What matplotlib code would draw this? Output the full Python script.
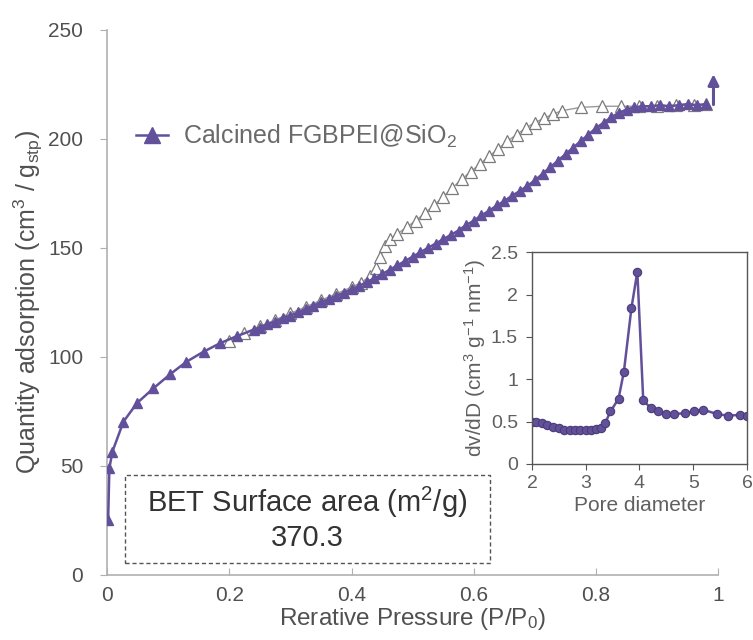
import matplotlib
matplotlib.use("Agg")
import matplotlib.pyplot as plt
from matplotlib.patches import Rectangle

plt.rcParams["font.family"] = ["Liberation Sans", "DejaVu Sans"]
plt.rcParams["mathtext.default"] = "regular"

PURPLE = "#62509a"
GREY_TXT = "#505050"

# adsorption branch (filled triangles)
ads_p = [0.002, 0.004, 0.009, 0.027, 0.049, 0.076, 0.103, 0.130, 0.158, 0.185,
         0.212, 0.24, 0.25, 0.2625, 0.275, 0.2875, 0.30, 0.3125, 0.325, 0.3375,
         0.35, 0.3625, 0.375, 0.3875, 0.40, 0.4125, 0.425, 0.4375, 0.45, 0.4625,
         0.475, 0.4875, 0.50, 0.5125, 0.525, 0.5375, 0.55, 0.5625, 0.575, 0.5875,
         0.60, 0.6125, 0.625, 0.6375, 0.65, 0.6625, 0.675, 0.6875, 0.70, 0.7125,
         0.725, 0.7375, 0.75, 0.7625, 0.775, 0.7875, 0.80, 0.8125, 0.825, 0.8375,
         0.85, 0.8625, 0.875, 0.89, 0.905, 0.92, 0.935, 0.95, 0.965, 0.98]
ads_q = [25.2, 49.0, 56.6, 70.3, 78.8, 85.6, 92.0, 97.8, 102.4, 106.3,
         109.5, 112.5, 113.5, 115.0, 116.2, 117.8, 119.0, 120.5, 122.0, 123.5,
         125.0, 126.5, 128.0, 129.5, 131.0, 132.5, 134.5, 136.0, 138.0, 140.0,
         142.0, 144.0, 146.0, 148.0, 150.0, 152.0, 154.0, 156.0, 158.0, 160.5,
         162.5, 165.0, 167.0, 169.5, 171.5, 174.0, 176.0, 178.5, 181.0, 184.0,
         187.0, 190.0, 193.0, 196.0, 199.0, 202.0, 205.0, 207.5, 210.0, 212.0,
         213.5, 214.5, 215.0, 215.0, 215.5, 215.0, 215.5, 216.0, 215.5, 216.0]

# desorption branch (open triangles)
des_p = [0.20, 0.225, 0.25, 0.275, 0.30, 0.325, 0.35, 0.375, 0.40, 0.415,
         0.43, 0.44, 0.447, 0.455, 0.463, 0.475, 0.49, 0.505, 0.52, 0.535,
         0.55, 0.565, 0.58, 0.595, 0.61, 0.625, 0.64, 0.655, 0.67, 0.685,
         0.70, 0.715, 0.73, 0.745, 0.775, 0.81, 0.84, 0.87, 0.90, 0.93,
         0.96, 0.98]
des_q = [107.5, 111.0, 114.0, 117.0, 120.0, 123.0, 126.0, 129.0, 132.0, 134.0,
         137.0, 141.0, 146.0, 151.0, 154.0, 156.5, 159.5, 162.5, 166.0, 169.5,
         173.5, 177.5, 181.5, 185.0, 188.5, 192.0, 195.5, 199.0, 202.0, 205.0,
         207.5, 209.5, 211.5, 213.0, 214.5, 215.0, 215.0, 215.0, 215.0, 215.5,
         215.5, 216.0]

# arrow at the end of the isotherm
arrow_p = [0.992, 0.992]
arrow_q = [214.5, 231.0]

# pore size distribution (inset)
pore_d = [2.0, 2.08, 2.18, 2.28, 2.4, 2.5, 2.6, 2.7, 2.8, 2.9, 3.0, 3.1,
          3.2, 3.28, 3.36, 3.46, 3.61, 3.71, 3.85, 3.96, 4.07, 4.21, 4.35,
          4.5, 4.65, 4.85, 5.01, 5.19, 5.44, 5.65, 5.87, 6.0]
dv_dD = [0.50, 0.49, 0.48, 0.46, 0.44, 0.42, 0.40, 0.40, 0.40, 0.40, 0.40, 0.40,
         0.41, 0.43, 0.48, 0.62, 0.77, 1.09, 1.84, 2.27, 0.75, 0.66, 0.62,
         0.59, 0.59, 0.60, 0.62, 0.64, 0.59, 0.57, 0.58, 0.57]

bet_value = "370.3"

fig = plt.figure(figsize=(7.53, 6.4), dpi=100)
ax = fig.add_axes([0.142, 0.1016, 0.812, 0.8516])

ax.plot(des_p, des_q, color="#9a9a9a", lw=1.0, marker="^", ms=8,
        mfc="white", mec="#7a7a7a", mew=0.9, zorder=2)
ax.plot(ads_p, ads_q, color=PURPLE, lw=1.8, marker="^", ms=7,
        mfc=PURPLE, mec=PURPLE, zorder=3, label="Calcined FGBPEI@SiO$_2$")
ax.annotate("", xy=(arrow_p[1], arrow_q[1]), xytext=(arrow_p[0], arrow_q[0]),
            arrowprops=dict(arrowstyle="-|>", color=PURPLE, lw=2.2,
                            mutation_scale=16), zorder=4)

ax.set_xlim(0, 1)
ax.set_ylim(0, 250)
ax.set_xticks([0, 0.2, 0.4, 0.6, 0.8, 1])
ax.set_xticklabels(["0", "0.2", "0.4", "0.6", "0.8", "1"])
ax.set_yticks([0, 50, 100, 150, 200, 250])
for s in ["top", "right"]:
    ax.spines[s].set_visible(False)
for s in ["left", "bottom"]:
    ax.spines[s].set_color("#b0b0b0")
    ax.spines[s].set_linewidth(1.2)
ax.tick_params(axis="y", direction="out", length=5, color="#b0b0b0",
               labelsize=15, labelcolor=GREY_TXT, pad=12)
ax.tick_params(axis="x", direction="in", length=5, color="#b0b0b0",
               labelsize=15, labelcolor=GREY_TXT, pad=8)
ax.set_xlabel("Rerative Pressure (P/P$_0$)", fontsize=17.5, color=GREY_TXT, labelpad=1)
ax.set_ylabel("Quantity adsorption (cm$^3$ / g$_{stp}$)", fontsize=18,
              color=GREY_TXT, labelpad=2)

leg = ax.legend(loc="center left", bbox_to_anchor=(0.01, 0.804), frameon=False,
                fontsize=18, markerscale=1.6, handlelength=1.3, handletextpad=0.6)
for t in leg.get_texts():
    t.set_color("#6a6a6a")

# BET annotation box
ax.add_patch(Rectangle((0.0295, 5.5), 0.5975, 40.4, fill=False, ls=(0, (3, 2)),
                       lw=1.0, ec="#555555", zorder=1))
ax.text(0.327, 33.5, "BET Surface area (m$^2$/g)", ha="center", va="center",
        fontsize=21, color="#333333")
ax.text(0.327, 17.0, bet_value, ha="center", va="center", fontsize=21,
        color="#333333")

# inset: pore size distribution
ins = fig.add_axes([0.7065, 0.275, 0.2855, 0.331])
ins.plot(pore_d, dv_dD, color=PURPLE, lw=1.8, marker="o", ms=6,
         mfc=PURPLE, mec="#4a3c78", mew=0.8)
ins.set_xlim(2, 6)
ins.set_ylim(0, 2.5)
ins.set_xticks([2, 3, 4, 5, 6])
ins.set_yticks([0, 0.5, 1, 1.5, 2, 2.5])
ins.set_yticklabels(["0", "0.5", "1", "1.5", "2", "2.5"])
for s in ins.spines.values():
    s.set_color("#555555")
    s.set_linewidth(1.0)
ins.tick_params(axis="y", direction="out", length=4, color="#555555", labelsize=14,
                labelcolor="#606060", pad=6)
ins.tick_params(axis="x", direction="out", length=4, color="#555555", labelsize=14,
                labelcolor="#606060", pad=4)
ins.set_xlabel("Pore diameter", fontsize=15, color="#606060", labelpad=3)
ins.set_ylabel("dv/dD (cm$^3$ g$^{-1}$ nm$^{-1}$)", fontsize=15, color="#606060",
               labelpad=2)

fig.savefig("out.png", dpi=100)
